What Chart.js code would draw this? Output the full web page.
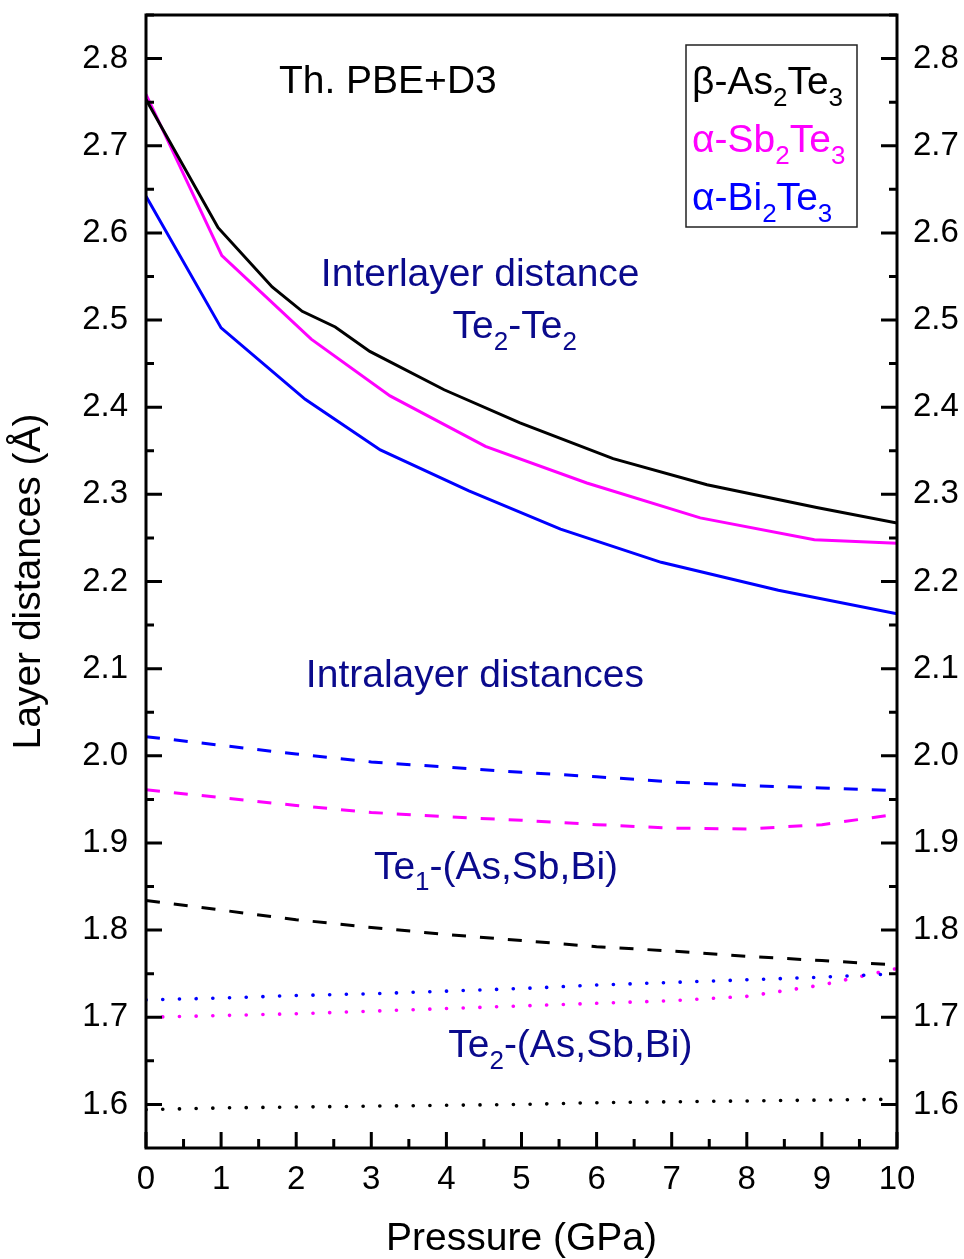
<!DOCTYPE html>
<html>
<head>
<meta charset="utf-8">
<script src="https://cdn.jsdelivr.net/npm/chart.js@4.4.1/dist/chart.umd.min.js"></script>
<style>
  html, body { margin: 0; padding: 0; background: #fff; }
</style>
</head>
<body>
<canvas id="myChart" width="964" height="1259"></canvas>
<script>
// pressure grid (GPa) for the intralayer curves
var pressures = [0, 1, 2, 3, 4, 5, 6, 7, 8, 9, 10];

// interlayer Te2-Te2 distances (solid)
var asInterP = [0, 0.96, 1.68, 2.08, 2.52, 2.98, 3.97, 4.98, 6.22, 7.47, 8.93, 10];
var asInter  = [2.753, 2.606, 2.538, 2.510, 2.492, 2.464, 2.420, 2.382, 2.341, 2.311, 2.285, 2.267];
var sbInterP = [0, 1.01, 2.2, 3.25, 4.52, 5.87, 7.38, 8.9, 10];
var sbInter  = [2.759, 2.574, 2.478, 2.413, 2.355, 2.313, 2.273, 2.248, 2.244];
var biInterP = [0, 1.0, 2.12, 3.12, 4.3, 5.52, 6.86, 8.42, 10];
var biInter  = [2.642, 2.491, 2.409, 2.351, 2.304, 2.260, 2.222, 2.190, 2.163];

// intralayer Te1-M distances (dashed)
var asTe1 = [1.834, 1.823, 1.812, 1.803, 1.795, 1.788, 1.781, 1.776, 1.770, 1.765, 1.760];
var sbTe1 = [1.961, 1.952, 1.943, 1.935, 1.930, 1.926, 1.921, 1.917, 1.916, 1.921, 1.933];
var biTe1 = [2.022, 2.012, 2.002, 1.993, 1.987, 1.981, 1.976, 1.970, 1.966, 1.963, 1.960];

// intralayer Te2-M distances (dotted)
var asTe2 = [1.594, 1.596, 1.597, 1.598, 1.599, 1.600, 1.602, 1.603, 1.604, 1.605, 1.606];
var sbTe2 = [1.700, 1.702, 1.704, 1.707, 1.710, 1.713, 1.716, 1.719, 1.724, 1.737, 1.756];
var biTe2 = [1.720, 1.722, 1.725, 1.727, 1.730, 1.733, 1.737, 1.740, 1.743, 1.746, 1.750];

var compounds = ['β-As_2Te_3', 'α-Sb_2Te_3', 'α-Bi_2Te_3'];
var xTicks = [0, 1, 2, 3, 4, 5, 6, 7, 8, 9, 10];
var yTicks = [1.6, 1.7, 1.8, 1.9, 2.0, 2.1, 2.2, 2.3, 2.4, 2.5, 2.6, 2.7, 2.8];

var BLACK = '#000000', MAGENTA = '#ff00ff', BLUE = '#0000ff', NAVY = '#0a0a8c';
var FONT = '"Liberation Sans", Arial, sans-serif';

function pts(xs, ys) {
  return xs.map(function (x, i) { return { x: x, y: ys[i] }; });
}

function series(label, data, color, kind) {
  var ds = {
    label: label,
    data: data,
    showLine: true,
    borderColor: color,
    backgroundColor: color,
    borderWidth: 3,
    pointRadius: 0,
    fill: false,
    tension: 0
  };
  if (kind === 'dash') {
    ds.borderDash = [14, 14];
  } else if (kind === 'dot') {
    ds.borderDash = [0.1, 16.6];
    ds.borderCapStyle = 'round';
    ds.borderWidth = 3.6;
  }
  return ds;
}

// draw "Te_2-Te_2" style strings: "_x" puts one character in subscript
function richText(ctx, str, x, y, size, color, align) {
  var parts = [];
  var re = /_(.)/g, last = 0, m;
  while ((m = re.exec(str)) !== null) {
    if (m.index > last) parts.push({ t: str.slice(last, m.index), sub: false });
    parts.push({ t: m[1], sub: true });
    last = re.lastIndex;
  }
  if (last < str.length) parts.push({ t: str.slice(last), sub: false });

  var subSize = Math.round(size * 0.66);
  ctx.save();
  ctx.fillStyle = color;
  ctx.textBaseline = 'alphabetic';
  ctx.textAlign = 'left';
  var w = 0;
  parts.forEach(function (p) {
    ctx.font = (p.sub ? subSize : size) + 'px ' + FONT;
    p.w = ctx.measureText(p.t).width;
    w += p.w;
  });
  var cx = align === 'center' ? x - w / 2 : x;
  parts.forEach(function (p) {
    ctx.font = (p.sub ? subSize : size) + 'px ' + FONT;
    ctx.fillText(p.t, cx, p.sub ? y + size * 0.3 : y);
    cx += p.w;
  });
  ctx.restore();
}

var notes = [
  { text: 'Th. PBE+D3', p: 3.22, d: 2.776, color: BLACK },
  { text: 'Interlayer distance', p: 4.45, d: 2.555, color: NAVY },
  { text: 'Te_2-Te_2', p: 4.91, d: 2.495, color: NAVY },
  { text: 'Intralayer distances', p: 4.38, d: 2.095, color: NAVY },
  { text: 'Te_1-(As,Sb,Bi)', p: 4.66, d: 1.875, color: NAVY },
  { text: 'Te_2-(As,Sb,Bi)', p: 5.65, d: 1.670, color: NAVY }
];

var framePlugin = {
  id: 'frame',
  afterDraw: function (chart) {
    var ctx = chart.ctx, a = chart.chartArea;
    var xs = chart.scales.x, ys = chart.scales.y;
    ctx.save();
    ctx.strokeStyle = '#000';
    ctx.lineWidth = 3;
    ctx.beginPath();
    // inward ticks, left/right and bottom
    yTicks.forEach(function (v) {
      var py = ys.getPixelForValue(v);
      ctx.moveTo(a.left, py); ctx.lineTo(a.left + 16, py);
      ctx.moveTo(a.right, py); ctx.lineTo(a.right - 16, py);
      var pm = ys.getPixelForValue(v + 0.05);
      if (pm > a.top) {
        ctx.moveTo(a.left, pm); ctx.lineTo(a.left + 8, pm);
        ctx.moveTo(a.right, pm); ctx.lineTo(a.right - 8, pm);
      }
      if (v === yTicks[0]) {
        var pb = ys.getPixelForValue(v - 0.05);
        if (pb < a.bottom) {
          ctx.moveTo(a.left, pb); ctx.lineTo(a.left + 8, pb);
          ctx.moveTo(a.right, pb); ctx.lineTo(a.right - 8, pb);
        }
      }
    });
    xTicks.forEach(function (v, i) {
      var px = xs.getPixelForValue(v);
      ctx.moveTo(px, a.bottom); ctx.lineTo(px, a.bottom - 16);
      if (i < xTicks.length - 1) {
        var pm = xs.getPixelForValue(v + 0.5);
        ctx.moveTo(pm, a.bottom); ctx.lineTo(pm, a.bottom - 9);
      }
    });
    ctx.stroke();
    ctx.strokeRect(a.left, a.top, a.right - a.left, a.bottom - a.top);

    // legend box
    var lx = a.right - 211, ly = a.top + 30;
    ctx.lineWidth = 1.5;
    ctx.strokeStyle = '#222';
    ctx.strokeRect(lx, ly, 171, 182);
    ctx.restore();

    var colors = [BLACK, MAGENTA, BLUE];
    compounds.forEach(function (c, i) {
      richText(ctx, c, lx + 6, ly + 35 + 14 + i * 58, 39, colors[i], 'left');
    });

    notes.forEach(function (n) {
      var size = 39;
      var px = xs.getPixelForValue(n.p);
      var py = ys.getPixelForValue(n.d);
      richText(ctx, n.text, px, py + size * 0.358, size, n.color, 'center');
    });
  }
};

Chart.defaults.font.family = FONT;
Chart.defaults.color = '#000';

var ctx = document.getElementById('myChart').getContext('2d');
var myChart = new Chart(ctx, {
  type: 'scatter',
  data: {
    datasets: [
      series(compounds[0] + ' inter', pts(asInterP, asInter), BLACK, 'solid'),
      series(compounds[1] + ' inter', pts(sbInterP, sbInter), MAGENTA, 'solid'),
      series(compounds[2] + ' inter', pts(biInterP, biInter), BLUE, 'solid'),
      series(compounds[2] + ' Te1', pts(pressures, biTe1), BLUE, 'dash'),
      series(compounds[1] + ' Te1', pts(pressures, sbTe1), MAGENTA, 'dash'),
      series(compounds[0] + ' Te1', pts(pressures, asTe1), BLACK, 'dash'),
      series(compounds[2] + ' Te2', pts(pressures, biTe2), BLUE, 'dot'),
      series(compounds[1] + ' Te2', pts(pressures, sbTe2), MAGENTA, 'dot'),
      series(compounds[0] + ' Te2', pts(pressures, asTe2), BLACK, 'dot')
    ]
  },
  options: {
    responsive: false,
    animation: false,
    layout: { padding: { top: 15, left: 0, right: 0, bottom: 0 } },
    plugins: {
      legend: { display: false },
      tooltip: { enabled: false }
    },
    scales: {
      x: {
        type: 'linear',
        min: 0,
        max: 10,
        grid: { display: false, drawTicks: false },
        border: { display: false },
        afterBuildTicks: function (s) { s.ticks = xTicks.map(function (v) { return { value: v }; }); },
        afterFit: function (s) { s.height = 111; s.paddingLeft = 0; s.paddingRight = 0; },
        ticks: {
          autoSkip: false,
          maxRotation: 0,
          padding: 12,
          font: { size: 33 },
          callback: function (v) { return v.toFixed(0); }
        },
        title: {
          display: true,
          text: 'Pressure (GPa)',
          font: { size: 39, lineHeight: 1 },
          padding: { top: 0, bottom: 0 }
        }
      },
      y: {
        type: 'linear',
        position: 'left',
        min: 1.55,
        max: 2.85,
        grid: { display: false, drawTicks: false },
        border: { display: false },
        afterBuildTicks: function (s) { s.ticks = yTicks.map(function (v) { return { value: v }; }); },
        afterFit: function (s) { s.width = 146; s.paddingTop = 0; s.paddingBottom = 0; },
        ticks: {
          autoSkip: false,
          padding: 18,
          font: { size: 33 },
          callback: function (v) { return v.toFixed(1); }
        },
        title: {
          display: true,
          text: 'Layer distances (Å)',
          font: { size: 39, lineHeight: 1 },
          padding: { top: 10, bottom: 0 }
        }
      },
      y2: {
        type: 'linear',
        position: 'right',
        min: 1.55,
        max: 2.85,
        grid: { display: false, drawTicks: false },
        border: { display: false },
        afterBuildTicks: function (s) { s.ticks = yTicks.map(function (v) { return { value: v }; }); },
        afterFit: function (s) { s.width = 67; s.paddingTop = 0; s.paddingBottom = 0; },
        ticks: {
          autoSkip: false,
          padding: 16,
          font: { size: 33 },
          callback: function (v) { return v.toFixed(1); }
        }
      }
    }
  },
  plugins: [framePlugin]
});
</script>
</body>
</html>
